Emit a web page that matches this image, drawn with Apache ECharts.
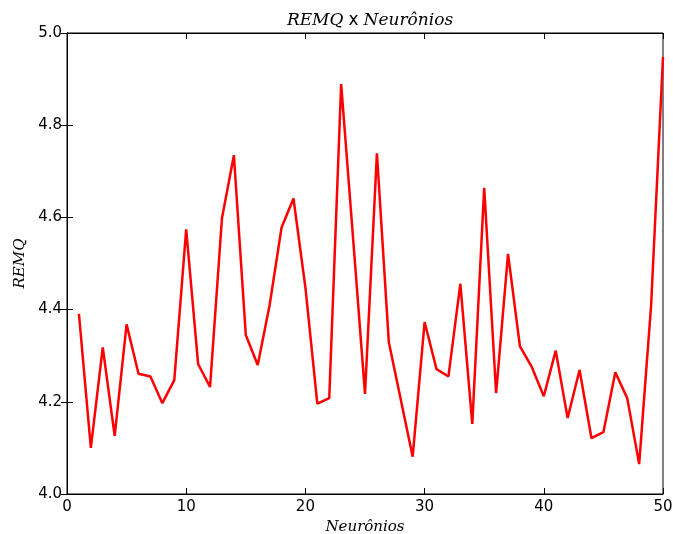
<!DOCTYPE html>
<html><head><meta charset="utf-8">
<script src="https://cdn.jsdelivr.net/npm/echarts@6/dist/echarts.min.js"></script>
<style>html,body{margin:0;padding:0;background:#fff}#c{width:673px;height:534px}</style>
</head><body><div id="c"></div>
<script>
const neurons = [1,2,3,4,5,6,7,8,9,10,11,12,13,14,15,16,17,18,19,20,21,22,23,24,25,26,27,28,29,30,31,32,33,34,35,36,37,38,39,40,41,42,43,44,45,46,47,48,49,50];
const remq = [4.391,4.100,4.318,4.126,4.368,4.261,4.255,4.197,4.247,4.574,
              4.282,4.232,4.598,4.735,4.345,4.280,4.410,4.578,4.641,4.448,
              4.196,4.208,4.889,4.555,4.217,4.739,4.329,4.205,4.081,4.373,
              4.271,4.255,4.456,4.152,4.664,4.219,4.521,4.320,4.275,4.212,
              4.311,4.165,4.269,4.121,4.134,4.264,4.208,4.065,4.408,4.948];
const xTicks = [0,10,20,30,40,50];
const yTicks = [4.0,4.2,4.4,4.6,4.8,5.0];

const chart = echarts.init(document.getElementById('c'));
const lbl = {fontFamily:'DejaVu Sans', fontSize:15, color:'#000'};
chart.setOption({
  animation:false,
  title:{
    text:'{i|REMQ} {n|x} {i|Neurônios}',
    left:365, top:7, textAlign:'center',
    textStyle:{fontWeight:'normal', rich:{
      i:{fontFamily:'DejaVu Serif', fontStyle:'italic', fontWeight:'normal', fontSize:17, color:'#000'},
      n:{fontFamily:'DejaVu Sans', fontWeight:'normal', fontSize:17, color:'#000'}
    }}
  },
  grid:{left:67, right:10, top:33, bottom:40, containLabel:false, outerBoundsMode:'none',
        show:true, borderColor:'#000', borderWidth:1},
  xAxis:[{
    type:'value', min:0, max:50, interval:10,
    name:'Neurônios', nameLocation:'middle', nameGap:24,
    nameTextStyle:{fontFamily:'DejaVu Serif', fontStyle:'italic', fontSize:15, color:'#000'},
    axisLine:{lineStyle:{color:'#000'}},
    axisTick:{inside:true, length:6, lineStyle:{color:'#000'}},
    axisLabel:Object.assign({margin:6, formatter:v=>xTicks.includes(v)?String(v):''}, lbl),
    splitLine:{show:false}
  },{
    type:'value', min:0, max:50, interval:10, position:'top',
    axisLine:{lineStyle:{color:'#000'}},
    axisTick:{inside:true, length:6, lineStyle:{color:'#000'}},
    axisLabel:{show:false}, splitLine:{show:false}
  }],
  yAxis:[{
    type:'value', min:4.0, max:5.0, interval:0.2,
    name:'REMQ', nameLocation:'middle', nameGap:38, nameRotate:90,
    nameTextStyle:{fontFamily:'DejaVu Serif', fontStyle:'italic', fontSize:15, color:'#000'},
    axisLine:{show:true, lineStyle:{color:'#000'}},
    axisTick:{show:true, inside:true, length:6, lineStyle:{color:'#000'}},
    axisLabel:Object.assign({margin:5, formatter:v=>yTicks.some(t=>Math.abs(t-v)<1e-9)?v.toFixed(1):''}, lbl),
    splitLine:{show:false}
  },{
    type:'value', min:4.0, max:5.0, interval:0.2, position:'right',
    axisLine:{show:true, lineStyle:{color:'#000'}},
    axisTick:{show:true, inside:true, length:6, lineStyle:{color:'#000'}},
    axisLabel:{show:false}, splitLine:{show:false}
  }],
  series:[{
    type:'line', xAxisIndex:0, yAxisIndex:0,
    data:neurons.map((n,i)=>[n,remq[i]]),
    showSymbol:false, symbol:'none',
    lineStyle:{color:'#ff0000', width:2.5},
    itemStyle:{color:'#ff0000'}
  }]
});
</script></body></html>
